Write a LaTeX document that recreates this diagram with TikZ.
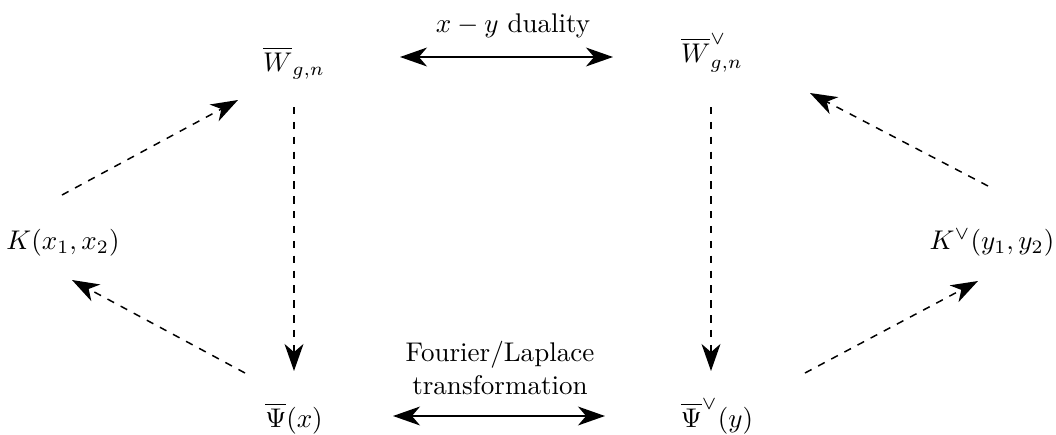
\documentclass[tikz,border=0pt]{standalone}
\usetikzlibrary{arrows.meta}
\begin{document}
\begin{tikzpicture}[x=0.37pt,y=-0.37pt,
  lab/.style={inner sep=0pt,anchor=base},
  dasharrow/.style={line width=0.55pt,dash pattern=on 5\pgflinewidth off 5\pgflinewidth,-{Stealth[length=10pt,width=7pt,inset=3pt]}},
  duarrow/.style={line width=0.55pt,{Stealth[length=10pt,width=7pt,inset=3pt]}-{Stealth[length=10pt,width=7pt,inset=3pt]}}]
\useasboundingbox (0,0) rectangle (1056,434);
% labels
\node[lab] (W) at (294,71) {$\overline{W}_{g,n}$};
\node[lab] (Wv) at (712,62) {$\overline{W}^{\vee}_{g,n}$};
\node[lab] (K) at (63,249) {$K(x_1,x_2)$};
\node[lab] (Kv) at (992,249) {$K^{\vee}(y_1,y_2)$};
\node[lab] (P) at (294,427) {$\overline{\Psi}(x)$};
\node[lab] (Pv) at (717,427) {$\overline{\Psi}^{\vee}(y)$};
\node[lab] (dual) at (513,32) {$x-y$ duality};
\node[inner sep=0pt,align=center] (FL) at (500,368) {Fourier/Laplace\\transformation};
% arrow ends
\coordinate (t1) at (400,57); \coordinate (t2) at (613,57);
\coordinate (b1) at (393,416); \coordinate (b2) at (605,416);
\coordinate (lv1) at (294,107); \coordinate (lv2) at (294,371);
\coordinate (rv1) at (711,107); \coordinate (rv2) at (711,371);
\coordinate (lu1) at (62,195); \coordinate (lu2) at (238,100);
\coordinate (ll1) at (245,373); \coordinate (ll2) at (72,280);
\coordinate (ru1) at (988,186); \coordinate (ru2) at (810,93);
\coordinate (rl1) at (805,373); \coordinate (rl2) at (978,281);
% arrows
\draw[duarrow] (t1) -- (t2);
\draw[duarrow] (b1) -- (b2);
\draw[dasharrow] (lv1) -- (lv2);
\draw[dasharrow] (rv1) -- (rv2);
\draw[dasharrow] (lu1) -- (lu2);
\draw[dasharrow] (ll1) -- (ll2);
\draw[dasharrow] (ru1) -- (ru2);
\draw[dasharrow] (rl1) -- (rl2);
\end{tikzpicture}
\end{document}
